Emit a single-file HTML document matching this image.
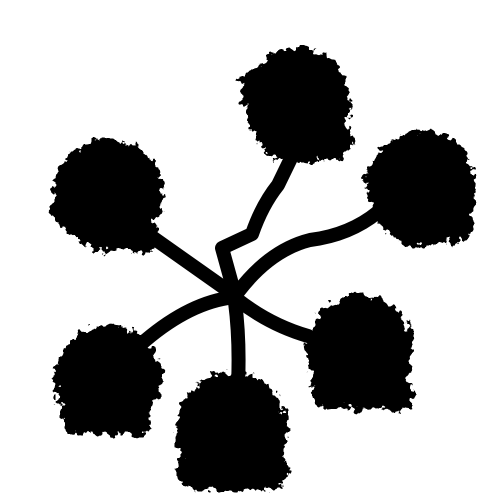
<!DOCTYPE html>
<html>
<head>
<meta charset="utf-8">
<style>
html,body{margin:0;padding:0;background:#fff;}
svg{display:block;}
</style>
</head>
<body>
<svg width="500" height="500" viewBox="0 0 500 500">
  <defs>
    <filter id="rough" x="-20%" y="-20%" width="140%" height="140%">
      <feTurbulence type="fractalNoise" baseFrequency="0.12" numOctaves="3" seed="4" result="n"/>
      <feDisplacementMap in="SourceGraphic" in2="n" scale="16" xChannelSelector="R" yChannelSelector="G"/>
    </filter>
  </defs>
  <rect width="500" height="500" fill="#fff"/>
  <g stroke="#000" stroke-width="14" fill="none" stroke-linecap="round" stroke-linejoin="round">
    <path d="M235 295 L222 248 L252 234 Q262 205 278 185 L295 150"/>
    <path d="M238 292 Q270 250 310 240 Q350 235 378 212"/>
    <path d="M230 292 L145 232"/>
    <path d="M238 300 Q270 325 308 336"/>
    <path d="M228 298 Q185 305 140 345"/>
    <path d="M235 302 Q240 340 238 385"/>
  </g>
  <g fill="#000" filter="url(#rough)">
    <g>
      <ellipse cx="298" cy="105" rx="52" ry="58"/>
      <circle cx="262" cy="90" r="22"/><circle cx="330" cy="140" r="22"/>
    </g>
    <g>
      <ellipse cx="422" cy="188" rx="54" ry="58"/>
      <circle cx="385" cy="178" r="20"/><circle cx="455" cy="225" r="18"/>
    </g>
    <g>
      <ellipse cx="108" cy="195" rx="55" ry="56"/>
      <circle cx="70" cy="205" r="20"/><circle cx="140" cy="235" r="18"/>
    </g>
    <g>
      <ellipse cx="360" cy="352" rx="53" ry="58"/>
      <circle cx="330" cy="390" r="20"/><circle cx="395" cy="395" r="18"/>
    </g>
    <g>
      <ellipse cx="108" cy="380" rx="53" ry="55"/>
      <circle cx="80" cy="415" r="20"/><circle cx="135" cy="420" r="16"/>
    </g>
    <g>
      <ellipse cx="232" cy="432" rx="56" ry="60"/>
      <circle cx="200" cy="470" r="22"/><circle cx="268" cy="470" r="20"/>
    </g>
  </g>
</svg>
</body>
</html>
